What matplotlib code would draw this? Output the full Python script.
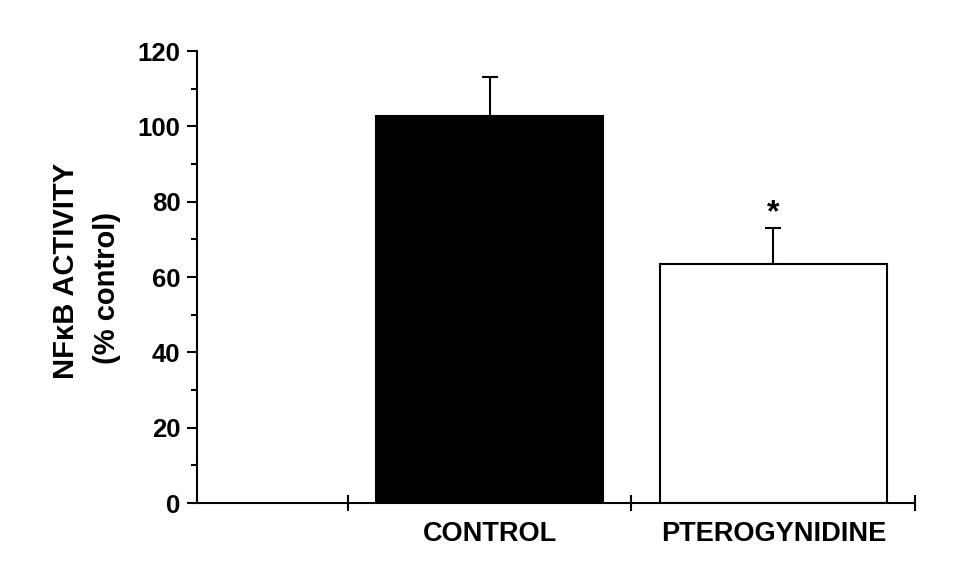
import matplotlib
matplotlib.use('Agg')
import matplotlib.pyplot as plt
from matplotlib.ticker import MultipleLocator

# data
groups = ['CONTROL', 'PTEROGYNIDINE']
activity = [102.7, 63.4]
sem = [10.3, 9.5]
colors = ['black', 'white']
marks = ['', '*']

plt.rcParams['font.family'] = ['Liberation Sans', 'DejaVu Sans']
plt.rcParams['font.weight'] = 'bold'

fig = plt.figure(figsize=(9.6, 5.75), dpi=100)
ax = fig.add_axes([0.2052, 0.1252, 0.748, 0.7861])

pos = [1, 2]
ax.bar(pos, activity, width=0.8, color=colors, edgecolor='black', linewidth=1.5, zorder=2)
ax.errorbar(pos, activity, yerr=[[0, 0], sem], fmt='none', ecolor='black',
            elinewidth=1.5, capsize=6, capthick=1.5, zorder=1)
for p, v, s, m in zip(pos, activity, sem, marks):
    if m:
        ax.text(p, v + s + 2, m, ha='center', va='baseline', fontsize=23, fontweight='bold')

ax.set_xlim(-0.032, 2.5)
ax.set_ylim(0, 120)
ax.spines['top'].set_visible(False)
ax.spines['right'].set_visible(False)
ax.spines['left'].set_linewidth(1.5)
ax.spines['bottom'].set_linewidth(1.5)

ax.set_xticks([0.5, 1.5, 2.5])
ax.set_xticklabels([])
ax.set_xticks(pos, minor=True)
ax.set_xticklabels(groups, minor=True, fontsize=19.5, fontweight='bold')
ax.tick_params(axis='x', which='major', direction='inout', length=12, width=1.5)
ax.tick_params(axis='x', which='minor', length=0, pad=13)

ax.yaxis.set_major_locator(MultipleLocator(20))
ax.yaxis.set_minor_locator(MultipleLocator(10))
ax.tick_params(axis='y', which='major', direction='out', length=7, width=1.5,
               labelsize=18.5, pad=5)
ax.tick_params(axis='y', which='minor', direction='out', length=4, width=1.5)
for lab in ax.get_yticklabels():
    lab.set_fontweight('bold')

# two-line y label
fig.text(66 / 960, 1 - 271 / 575, 'NFκB ACTIVITY', rotation=90, ha='center', va='center',
         fontsize=21, fontweight='bold')
fig.text(107 / 960, 1 - 288 / 575, '(% control)', rotation=90, ha='center', va='center',
         fontsize=21, fontweight='bold')

fig.savefig('out.png', dpi=100)
